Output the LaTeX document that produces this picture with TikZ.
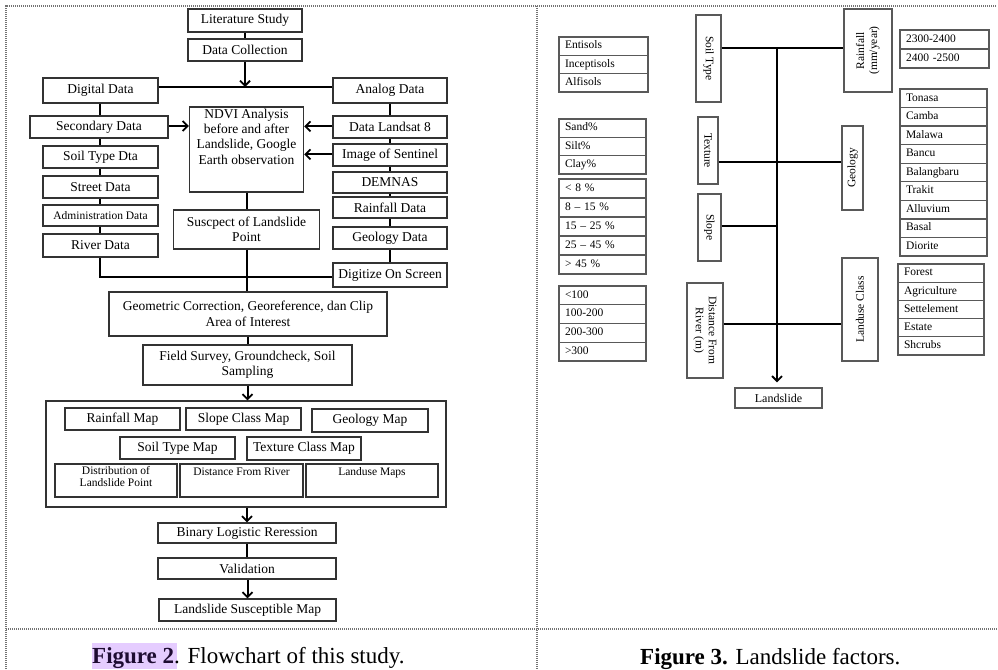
\documentclass[tikz,border=0pt]{standalone}
\usepackage{fontspec}
\setmainfont{Liberation Serif}
\usetikzlibrary{arrows.meta}
\definecolor{hl}{RGB}{229,204,255}
\definecolor{capc}{RGB}{30,12,50}
\begin{document}
\begin{tikzpicture}[x=1pt,y=-1pt,
  bx/.style={draw=black!80, line width=1.4pt, fill=white, inner sep=0pt, align=center, font=\fontsize{13.5}{15.5}\selectfont},
  sbx/.style={bx, font=\fontsize{11.5}{12}\selectfont},
  lbl/.style={inner sep=0pt, align=center, anchor=north},
  ln/.style={line width=2pt, black},
  arr/.style={ln, -{Straight Barb[length=5pt,width=10pt,line width=1.8pt]}},
  rb/.style={draw=black!65, line width=1.4pt, fill=white, inner sep=0pt, align=center, font=\fontsize{11.5}{13}\selectfont},
  cell/.style={draw=black!65, line width=1.3pt, inner ysep=0pt, inner xsep=6pt, align=left, text height=8pt, text depth=2.5pt, font=\fontsize{11.5}{13}\selectfont},
  brd/.style={black!55, line width=1.3pt, dash pattern=on 1.2pt off 0.8pt}]
\useasboundingbox (0,0) rectangle (998,669);
\fill[white] (0,0) rectangle (998,669);
% frame
\draw[brd] (6,669) -- (6,6) -- (996,6);
\draw[brd] (537,6) -- (537,669);
\draw[brd] (6,629) -- (997,629);

% ---------------- left flowchart ----------------
\node[bx, minimum width=114pt, minimum height=23pt] (lit) at (245,20.5) {Literature Study};
\node[bx, minimum width=114pt, minimum height=22pt] (dc) at (245,50) {Data Collection};
\node[bx, minimum width=115pt, minimum height=25pt] (dig) at (100.5,90.5) {Digital Data};
\node[bx, minimum width=114pt, minimum height=25pt] (ana) at (390,90.5) {Analog Data};
\node[bx, minimum width=138pt, minimum height=22pt] (sec) at (99,127) {Secondary Data};
\node[bx, minimum width=115pt, minimum height=22pt] (soil) at (100.5,157) {Soil Type Dta};
\node[bx, minimum width=115pt, minimum height=22pt] (street) at (100.5,187) {Street Data};
\node[sbx, minimum width=115pt, minimum height=21pt] (admin) at (100.5,215.5) {Administration Data};
\node[bx, minimum width=115pt, minimum height=23pt] (river) at (100.5,245.5) {River Data};
\node[bx, minimum width=114pt, minimum height=85pt] (ndvi) at (246.5,149.5) {};
\node[lbl, font=\fontsize{13.5}{15.3}\selectfont] (ndvit) at ([yshift=-2.5pt]ndvi.north) {NDVI Analysis\\before and after\\Landslide, Google\\Earth observation};
\node[bx, minimum width=114pt, minimum height=22pt] (lands) at (390,127) {Data Landsat 8};
\node[bx, minimum width=114pt, minimum height=22pt] (sent) at (390,155) {Image of Sentinel};
\node[bx, minimum width=114pt, minimum height=21pt] (dem) at (390,182.5) {DEMNAS};
\node[bx, minimum width=114pt, minimum height=21pt] (rain) at (390,207.5) {Rainfall Data};
\node[bx, minimum width=114pt, minimum height=22pt] (geo) at (390,238) {Geology Data};
\node[bx, minimum width=114pt, minimum height=24pt] (digit) at (390,275) {Digitize On Screen};
\node[bx, minimum width=146pt, minimum height=39pt] (susp) at (246.5,229.5) {Suscpect of Landslide\\Point};
\node[bx, minimum width=278pt, minimum height=44pt] (geom) at (248,314) {Geometric Correction, Georeference, dan Clip\\Area of Interest};
\node[bx, minimum width=209pt, minimum height=40pt] (field) at (247.5,365) {Field Survey, Groundcheck, Soil\\Sampling};
\node[bx, minimum width=400pt, minimum height=106pt] (big) at (246,454) {};
\node[bx, minimum width=115pt, minimum height=22pt] (rmap) at (122.5,419) {Rainfall Map};
\node[bx, minimum width=115pt, minimum height=22pt] (smap) at (243.5,419) {Slope Class Map};
\node[bx, minimum width=116pt, minimum height=23pt] (gmap) at (370,420.5) {Geology Map};
\node[bx, minimum width=115pt, minimum height=22pt] (stmap) at (177.5,448) {Soil Type Map};
\node[bx, minimum width=114pt, minimum height=23pt] (tmap) at (304,448.5) {Texture Class Map};
\node[bx, minimum width=122pt, minimum height=33pt] (dist) at (116,480.5) {};
\node[bx, minimum width=123pt, minimum height=33pt] (dfr) at (241.5,480.5) {};
\node[bx, minimum width=132pt, minimum height=33pt] (lum) at (372,480.5) {};
\node[lbl, font=\fontsize{11.5}{11.5}\selectfont] (distt) at ([yshift=-3pt]dist.north) {Distribution of\\Landslide Point};
\node[lbl, font=\fontsize{11.5}{11.5}\selectfont] (dfrt) at ([yshift=-4pt]dfr.north) {Distance From River};
\node[lbl, font=\fontsize{11.5}{11.5}\selectfont] (lumt) at ([yshift=-4pt]lum.north) {Landuse Maps};
\node[bx, minimum width=178pt, minimum height=20pt] (bin) at (247,533) {Binary Logistic Reression};
\node[bx, minimum width=178pt, minimum height=21pt] (val) at (247,568.5) {Validation};
\node[bx, minimum width=177pt, minimum height=22pt] (lsm) at (247.5,610) {Landslide Susceptible Map};

% left connectors
\coordinate (j1) at (245,87);
\coordinate (j2) at (246.5,277);
\draw[ln] (lit) -- (dc);
\draw[arr] (dc.south) -- (j1);
\draw[ln] (dig.east |- j1) -- (ana.west |- j1);
\draw[ln] (dig.south -| 100,0) -- (sec.north -| 100,0);
\draw[ln] (sec.south -| 100,0) -- (soil.north -| 100,0);
\draw[ln] (soil.south -| 100,0) -- (street.north -| 100,0);
\draw[ln] (street.south -| 100,0) -- (admin.north -| 100,0);
\draw[ln] (admin.south -| 100,0) -- (river.north -| 100,0);
\draw[ln] (river.south -| 100,0) |- (digit.west |- j2);
\draw[ln] (ana) -- (lands);
\draw[ln] (lands) -- (sent);
\draw[ln] (sent) -- (dem);
\draw[ln] (dem) -- (rain);
\draw[ln] (rain) -- (geo);
\draw[ln] (geo) -- (digit);
\draw[arr] ([yshift=1pt]sec.east) -- ([yshift=1pt]sec.east -| ndvi.west);
\draw[arr] ([yshift=0.6pt]lands.west) -- ([yshift=0.6pt]lands.west -| ndvi.east);
\draw[arr] ([yshift=0.6pt]sent.west) -- ([yshift=0.6pt]sent.west -| ndvi.east);
\draw[ln] (ndvi) -- (susp);
\draw[ln] (susp.south) -- (susp.south |- geom.north);
\draw[ln] (field.north |- geom.south) -- (field.north);
\draw[arr] (field.south) -- (field.south |- big.north);
\draw[arr] (bin.north |- big.south) -- (bin.north);
\draw[ln] (bin) -- (val);
\draw[arr] (val.south -| lsm.north) -- (lsm.north);

% ---------------- right diagram ----------------
\node[rb, minimum width=25pt, minimum height=87pt] (soilT) at (708.5,58.5) {\rotatebox{-90}{Soil Type}};
\node[rb, minimum width=48pt, minimum height=83pt] (rainT) at (868,50.5) {\rotatebox{90}{\begin{tabular}{@{}c@{}}Rainfall\\(mm/year)\end{tabular}}};
\node[rb, minimum width=20pt, minimum height=67pt] (texT) at (708,150.5) {\rotatebox{-90}{Texture}};
\node[rb, minimum width=21pt, minimum height=84pt] (geoT) at (852.5,168) {\rotatebox{90}{Geology}};
\node[rb, minimum width=23pt, minimum height=67pt] (slopeT) at (709.5,227.5) {\rotatebox{-90}{Slope}};
\node[rb, minimum width=36pt, minimum height=95pt] (distT) at (705,330.5) {\rotatebox{-90}{\begin{tabular}{@{}c@{}}Distance From\\River (m)\end{tabular}}};
\node[rb, minimum width=36pt, minimum height=103pt] (luT) at (860,309.5) {\rotatebox{90}{Landuse Class}};
\node[rb, minimum width=87pt, minimum height=20pt, font=\fontsize{12}{13}\selectfont] (lsl) at (778.5,398) {Landslide};

\foreach \t [count=\i] in {Entisols,Inceptisols,Alfisols}
  \node[cell, text width=77pt, minimum height=18.33pt] (ta\i) at (603.5,{37+18.33*(\i-0.5)}) {\t};
\foreach \t [count=\i] in {2300-2400,2400 -2500}
  \node[cell, text width=77pt, minimum height=19pt] (tb\i) at (944.5,{30+19*(\i-0.5)}) {\t};
\foreach \t [count=\i] in {Tonasa,Camba,Malawa,Bancu,Balangbaru,Trakit,Alluvium,Basal,Diorite}
  \node[cell, text width=75pt, minimum height=18.56pt] (tc\i) at (943.5,{89+18.56*(\i-0.5)}) {\t};
\foreach \t [count=\i] in {Sand\%,Silt\%,Clay\%}
  \node[cell, text width=75pt, minimum height=18.33pt] (td\i) at (602.5,{119+18.33*(\i-0.5)}) {\t};
\foreach \t [count=\i] in {< 8 \%,8 – 15 \%,15 – 25 \%,25 – 45 \%,> 45 \%}
  \node[cell, text width=75pt, minimum height=19pt] (te\i) at (602.5,{179+19*(\i-0.5)}) {\t};
\foreach \t [count=\i] in {<100,100-200,200-300,>300}
  \node[cell, text width=75pt, minimum height=18.75pt] (tf\i) at (602.5,{286+18.75*(\i-0.5)}) {\t};
\foreach \t [count=\i] in {Forest,Agriculture,Settelement,Estate,Shcrubs}
  \node[cell, text width=74pt, minimum height=18.2pt] (tg\i) at (941,{264+18.2*(\i-0.5)}) {\t};

\coordinate (r1) at (777,48);
\coordinate (r2) at (777,162);
\coordinate (r3) at (777,226);
\coordinate (r4) at (777,324);
\draw[ln] (soilT.east |- r1) -- (rainT.west |- r1);
\draw[ln] (texT.east |- r2) -- (geoT.west |- r2);
\draw[ln] (slopeT.east |- r3) -- (r3);
\draw[ln] (distT.east |- r4) -- (luT.west |- r4);
\draw[arr, shorten >=5pt] (r1) -- (r1 |- lsl.north);

% captions
\fill[hl] (92,643) rectangle (177,669);
\node[anchor=base west, inner sep=0pt, font=\fontsize{23}{26}\selectfont] (cap2) at (92,663) {\textcolor{capc}{\textbf{Figure 2}}. Flowchart of this study.};
\node[anchor=base west, inner sep=0pt, font=\fontsize{23}{26}\selectfont] (cap3) at (640,664) {\textbf{Figure 3.} Landslide factors.};
\end{tikzpicture}
\end{document}
